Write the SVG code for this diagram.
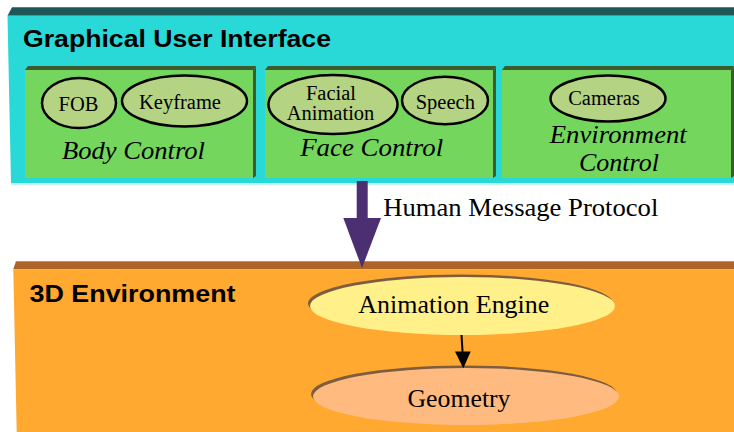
<svg xmlns="http://www.w3.org/2000/svg" width="734" height="432" viewBox="0 0 734 432">
<style>
.title{font-family:"Liberation Sans",Arial,sans-serif;font-weight:bold;font-size:24px;fill:#000}
.lbl{font-family:"Liberation Serif","Times New Roman",serif;font-size:20.5px;fill:#000;text-anchor:middle}
.ital{font-family:"Liberation Serif","Times New Roman",serif;font-style:italic;font-size:26px;fill:#000;text-anchor:middle}
.big{font-family:"Liberation Serif","Times New Roman",serif;font-size:25.5px;fill:#000}
.panel{fill:#74D65C}
.paneltop{fill:#3C5B2E}
.oval{fill:#B4D383;stroke:#000;stroke-width:2.5}
</style>
<rect width="734" height="432" fill="#fff"/>

<g id="gui">
  <polygon points="7.5,15.7 12,7.3 734,7.3 734,15.7" fill="#1F5757"/>
  <polygon points="7.5,15.7 734,15.7 734,183.3 11,183.3" fill="#28D9D7"/>
  <rect x="11" y="183.3" width="723" height="2" fill="#C6F1F0"/>
  <text class="title" x="23" y="47" textLength="308" lengthAdjust="spacingAndGlyphs">Graphical User Interface</text>
</g>

<g id="body-control">
  <polygon class="paneltop" points="25,70 28,66 256,66 253,70"/>
  <polygon class="paneltop" points="253,70 256,66 256,176 253,178"/>
  <rect class="panel" x="25" y="70" width="228" height="108"/>
  <text class="ital" x="133.5" y="159" textLength="143" lengthAdjust="spacingAndGlyphs">Body Control</text>
</g>
<g id="fob">
  <ellipse class="oval" cx="79" cy="103" rx="37" ry="25"/>
  <text class="lbl" x="78.5" y="110.5">FOB</text>
</g>
<g id="keyframe">
  <ellipse class="oval" cx="184.5" cy="101" rx="62.5" ry="25.5"/>
  <text class="lbl" x="180" y="109">Keyframe</text>
</g>

<g id="face-control">
  <polygon class="paneltop" points="265,70 268,66 496,66 493,70"/>
  <polygon class="paneltop" points="493,70 496,66 496,176 493,178"/>
  <rect class="panel" x="265" y="70" width="228" height="108"/>
  <text class="ital" x="371.7" y="155.5" textLength="143" lengthAdjust="spacingAndGlyphs">Face Control</text>
</g>
<g id="facial-animation">
  <ellipse class="oval" cx="333" cy="104.5" rx="64.5" ry="29.5"/>
  <text class="lbl" x="331" y="99.5">Facial</text>
  <text class="lbl" x="330.5" y="120.3">Animation</text>
</g>
<g id="speech">
  <ellipse class="oval" cx="445" cy="100.5" rx="43" ry="23.7"/>
  <text class="lbl" x="445.3" y="109">Speech</text>
</g>

<g id="environment-control">
  <polygon class="paneltop" points="502,70 505,66 734,66 731,70"/>
  <polygon class="paneltop" points="731,70 734,66 734,176 731,178"/>
  <rect class="panel" x="502" y="70" width="229" height="108"/>
  <text class="ital" x="618.3" y="142.7" textLength="137" lengthAdjust="spacingAndGlyphs">Environment</text>
  <text class="ital" x="619" y="170.7" textLength="80" lengthAdjust="spacingAndGlyphs">Control</text>
</g>
<g id="cameras">
  <ellipse class="oval" cx="608" cy="98.5" rx="57.5" ry="23"/>
  <text class="lbl" x="604" y="105">Cameras</text>
</g>

<g id="environment-3d">
  <polygon points="13.3,269.3 16,261 734,261 734,269.3" fill="#AD6426"/>
  <rect x="16" y="261" width="718" height="1" fill="#C8905E"/>
  <polygon points="13.3,269.3 734,269.3 734,432 16.7,432" fill="#FFA930"/>
  <text class="title" x="29.5" y="302" textLength="206" lengthAdjust="spacingAndGlyphs">3D Environment</text>
</g>

<g id="animation-engine">
  <ellipse cx="460.5" cy="303.5" rx="152.5" ry="29" fill="#7D5C3F"/>
  <ellipse cx="462.5" cy="306" rx="152.5" ry="29" fill="#FFF08A"/>
  <text class="big" x="453.8" y="313.3" text-anchor="middle" textLength="191" lengthAdjust="spacingAndGlyphs">Animation Engine</text>
</g>
<g id="geometry">
  <ellipse cx="464" cy="394" rx="153" ry="28.5" fill="#7D5C3F"/>
  <ellipse cx="466" cy="396.5" rx="153" ry="28.5" fill="#FFBA80"/>
  <text class="big" x="459" y="406.7" text-anchor="middle" textLength="103" lengthAdjust="spacingAndGlyphs">Geometry</text>
</g>

<g id="connectors">
  <rect x="356.7" y="181" width="11" height="38" fill="#4B2F72"/>
  <polygon points="343.3,218 381,218 362,268" fill="#4B2F72"/>
  <text class="big" x="383.3" y="215.7" textLength="275" lengthAdjust="spacingAndGlyphs">Human Message Protocol</text>
  <line x1="461.5" y1="335" x2="462.6" y2="353" stroke="#000" stroke-width="2"/>
  <polygon points="455,351.5 470.7,351.5 463.3,368.3" fill="#000"/>
</g>
</svg>
